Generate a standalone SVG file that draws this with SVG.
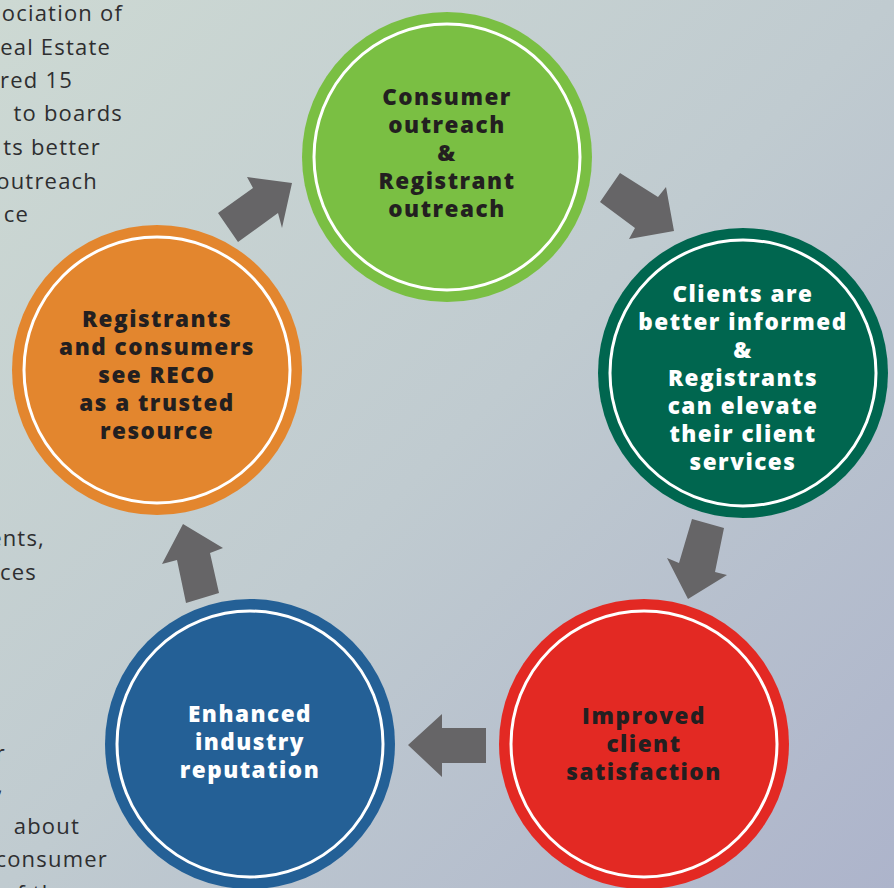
<svg xmlns="http://www.w3.org/2000/svg" width="894" height="888" viewBox="0 0 894 888">
<defs>
<linearGradient id="bg" x1="0" y1="0" x2="1" y2="1">
<stop offset="0" stop-color="#cdd9d3"/>
<stop offset="0.5" stop-color="#c0cbd0"/>
<stop offset="1" stop-color="#adb4cb"/>
</linearGradient>
<style>
.body{font-family:"Open Sans","Noto Sans","Liberation Sans",sans-serif;font-size:22px;letter-spacing:1.2px;fill:#2e2e30;text-anchor:end}
.lbl{font-family:"Open Sans","Noto Sans","Liberation Sans",sans-serif;font-size:22.5px;font-weight:800;letter-spacing:1.5px;text-anchor:middle}
.dark{fill:#231f20}
.light{fill:#ffffff}
.ring{fill:none;stroke:#ffffff;stroke-width:3}
.arrow{fill:#666567}
</style>
</defs>
<rect width="894" height="888" fill="url(#bg)"/>
<g id="side-text">
<text class="body" x="123" y="21">ociation of</text>
<text class="body" x="111" y="55">eal Estate</text>
<text class="body" x="73" y="88">red 15</text>
<text class="body" x="123" y="121">to boards</text>
<text class="body" x="101" y="155">ts better</text>
<text class="body" x="98" y="189">outreach</text>
<text class="body" x="29" y="222">ce</text>
<text class="body" x="45" y="546">ents,</text>
<text class="body" x="37" y="580">ces</text>
<text class="body" x="6" y="761">r</text>
<text class="body" x="4" y="793">,</text>
<text class="body" x="80" y="834">about</text>
<text class="body" x="108" y="867">consumer</text>
<text class="body" x="70" y="901">of the</text>
</g>
<g id="connectors">
<polygon class="arrow" points="218,213 238,242 278,213 282,228 292,183 247,177 253,188"/>
<polygon class="arrow" points="620,173 658,197 666,187 674,231 629,239 635,228 600,202"/>
<polygon class="arrow" points="692,519 724,528 715,572 727,575 688,599 667,558 679,563"/>
<polygon class="arrow" points="486,728 486,763 442,763 442,777 408,745 442,714 442,728"/>
<polygon class="arrow" points="183,524 223,548 210,553 219,593 186,603 177,560 162,564"/>
</g>
<g id="node-consumer-outreach">
<circle cx="447" cy="157" r="145" fill="#7abf43"/>
<circle class="ring" cx="447" cy="157" r="133"/>
<text class="lbl dark" x="447" y="105">Consumer</text>
<text class="lbl dark" x="447" y="133">outreach</text>
<text class="lbl dark" x="447" y="161">&amp;</text>
<text class="lbl dark" x="447" y="189">Registrant</text>
<text class="lbl dark" x="447" y="217">outreach</text>
</g>
<g id="node-clients-informed">
<circle cx="743" cy="373" r="145" fill="#00664f"/>
<circle class="ring" cx="743" cy="373" r="133"/>
<text class="lbl light" x="743" y="302">Clients are</text>
<text class="lbl light" x="743" y="330">better informed</text>
<text class="lbl light" x="743" y="358">&amp;</text>
<text class="lbl light" x="743" y="386">Registrants</text>
<text class="lbl light" x="743" y="414">can elevate</text>
<text class="lbl light" x="743" y="442">their client</text>
<text class="lbl light" x="743" y="470">services</text>
</g>
<g id="node-client-satisfaction">
<circle cx="644" cy="744" r="145" fill="#e32923"/>
<circle class="ring" cx="644" cy="744" r="133"/>
<text class="lbl dark" x="644" y="724">Improved</text>
<text class="lbl dark" x="644" y="752">client</text>
<text class="lbl dark" x="644" y="780">satisfaction</text>
</g>
<g id="node-industry-reputation">
<circle cx="250" cy="744" r="145" fill="#246096"/>
<circle class="ring" cx="250" cy="744" r="133"/>
<text class="lbl light" x="250" y="722">Enhanced</text>
<text class="lbl light" x="250" y="750">industry</text>
<text class="lbl light" x="250" y="778">reputation</text>
</g>
<g id="node-trusted-resource">
<circle cx="157" cy="370" r="145" fill="#e3862e"/>
<circle class="ring" cx="157" cy="370" r="133"/>
<text class="lbl dark" x="157" y="327">Registrants</text>
<text class="lbl dark" x="157" y="355">and consumers</text>
<text class="lbl dark" x="157" y="383">see RECO</text>
<text class="lbl dark" x="157" y="411">as a trusted</text>
<text class="lbl dark" x="157" y="439">resource</text>
</g>
</svg>
